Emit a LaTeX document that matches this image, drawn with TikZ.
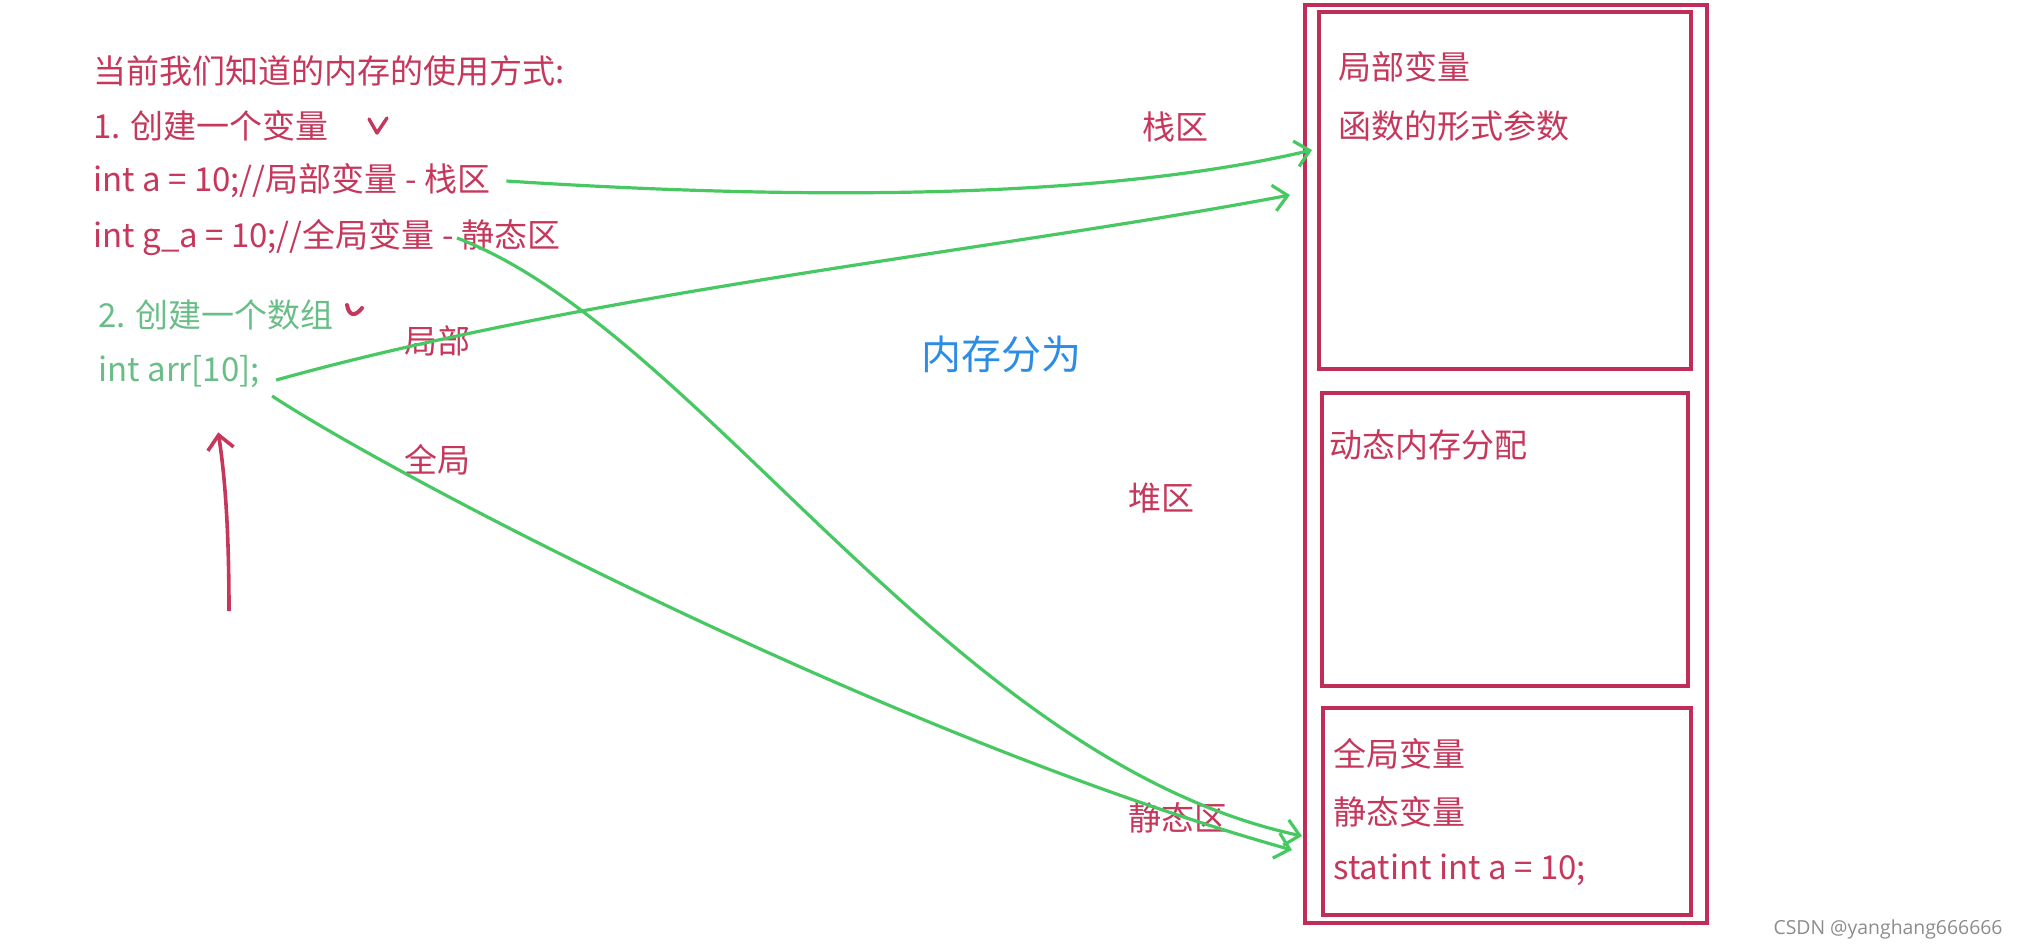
\documentclass[tikz,border=0pt]{standalone}
\usepackage{fontspec}
\newfontfamily\cjk{Noto Sans CJK SC}
\newfontfamily\shuiyin{Open Sans}
\usetikzlibrary{arrows.meta,positioning}
\definecolor{hongse}{RGB}{198,55,92}
\definecolor{lvse}{RGB}{72,200,98}
\definecolor{qianlv}{RGB}{105,190,135}
\definecolor{lanse}{RGB}{45,140,228}
\definecolor{kuangse}{RGB}{192,45,88}

\begin{document}
\begin{tikzpicture}[x=0.5pt, y=-0.5pt, >={Straight Barb[length=7pt,width=13pt]},
  wz/.style={font=\cjk\fontsize{16.5}{19}\selectfont, text=hongse, anchor=west, inner sep=0pt},
  lvwz/.style={wz, text=qianlv},
  kuang/.style={draw=kuangse, line width=2pt, anchor=north west, inner sep=0pt},
  xian/.style={draw=lvse, line width=1.6pt, ->}]
  \useasboundingbox (0,0) rectangle (2017,950);

  % 左边：内存的使用方式
  \node[wz] (biaoti) at (93,71) {当前我们知道的内存的使用方式:};
  \node[wz] (bl) at (93,126) {1. 创建一个变量};
  \node[wz] (jubu) at (93,181) {int a = 10;//局部变量 - 栈区};
  \node[wz] (quanju) at (93,238) {int g\_a = 10;//全局变量 - 静态区};
  \node[lvwz] (shuzu) at (98,315) {2. 创建一个数组};
  \node[lvwz] (arr) at (98,372) {int arr[10];};
  \draw[hongse, line width=1.7pt, line cap=round, line join=round]
    (369,119) -- (377,133) -- (387,118);
  \draw[hongse, line width=2pt, line cap=round, line join=round]
    (347,305) .. controls (349,316) and (355,317) .. (362,308);

  % 红色箭头
  \coordinate (hw) at (229,611);
  \node[inner sep=0pt] (hd) at (218,431) {};
  \draw[hongse, line width=1.8pt, ->] (hw) .. controls (229,520) and (224,470) .. (hd);

  % 右边：内存分区
  \node[kuang, minimum width=201pt, minimum height=459pt] (neicun) at (1303,3) {};
  \node[kuang, minimum width=186pt, minimum height=178.5pt] (zhan) at (1317,10) {};
  \node[kuang, minimum width=183pt, minimum height=146.5pt] (dui) at (1320,391) {};
  \node[kuang, minimum width=184pt, minimum height=103.5pt] (jingtai) at (1321,706) {};
  \node[wz] at (1338,67) {局部变量};
  \node[wz] at (1338,126) {函数的形式参数};
  \node[wz] at (1329,445) {动态内存分配};
  \node[wz] at (1333,754) {全局变量};
  \node[wz] at (1333,812) {静态变量};
  \node[wz] at (1333,870) {statint int a = 10;};

  % 中间的标签
  \node[wz] (zhanqu) at (1142,127) {栈区};
  \node[wz, text=lanse, font=\cjk\fontsize{20}{23}\selectfont] (fenwei) at (921,354) {内存分为};
  \node[wz] (duiqu) at (1128,498) {堆区};
  \node[wz] (jingtaiqu) at (1128,818) {静态区};
  \node[wz] (jb) at (404,341) {局部};
  \node[wz] (qj) at (404,460) {全局};

  % 绿色连线
  \coordinate (q1) at (457,238);
  \coordinate (z1) at (1312,150);
  \coordinate (z2) at (1290,195);
  \coordinate (j1) at (1302,836);
  \coordinate (j2) at (1292,850);
  \draw[xian] ([xshift=8pt]jubu.east) .. controls (800,200) and (1100,200) .. (z1);
  \draw[xian] ([xshift=8pt,yshift=-4pt]arr.east) .. controls (600,290) and (1000,250) .. (z2);
  \draw[xian] (q1) .. controls (700,330) and (950,760) .. (j1);
  \draw[xian] ([xshift=6pt,yshift=-12pt]arr.east) .. controls (400,480) and (900,740) .. (j2);

  \node[font=\shuiyin\fontsize{9.7}{12}\selectfont, text=black!45, inner sep=0pt] (csdn) at (1888,929) {CSDN @yanghang666666};
\end{tikzpicture}
\end{document}
